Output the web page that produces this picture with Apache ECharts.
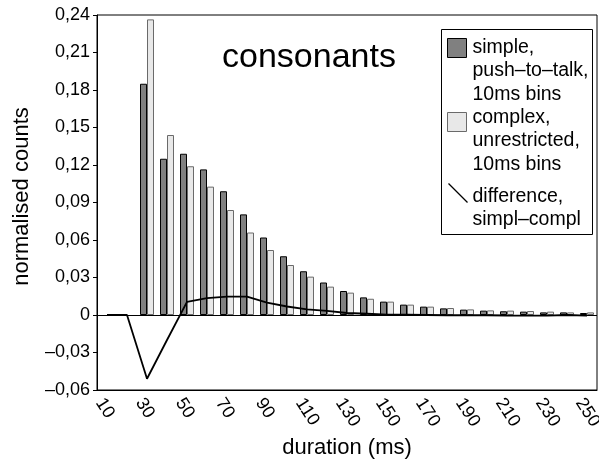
<!DOCTYPE html>
<html>
<head>
<meta charset="utf-8">
<script src="https://cdn.jsdelivr.net/npm/echarts@6/dist/echarts.min.js"></script>
<style>
  html, body { margin: 0; padding: 0; background: #fff; }
  #chart { width: 599px; height: 462px; }
</style>
</head>
<body>
<div id="chart"></div>
<script>
const durations = ['10', '20', '30', '40', '50', '60', '70', '80', '90', '100', '110', '120', '130',
  '140', '150', '160', '170', '180', '190', '200', '210', '220', '230', '240', '250'];

// simple, push-to-talk (dark bars)
const simpleCounts = [null, null, 0.185, 0.125, 0.129, 0.1165, 0.099, 0.0805, 0.062, 0.047, 0.035, 0.026, 0.0192,
  0.0141, 0.0107, 0.0083, 0.0067, 0.0053, 0.0043, 0.0035, 0.003, 0.0027, 0.0021, 0.0021, 0.0016];

// complex, unrestricted (light bars)
const complexCounts = [null, null, 0.2365, 0.144, 0.119, 0.1027, 0.084, 0.066, 0.052, 0.04, 0.0307, 0.0227, 0.0179,
  0.013, 0.0107, 0.0083, 0.0067, 0.0056, 0.0045, 0.0037, 0.0035, 0.0032, 0.0027, 0.0021, 0.0021];

// difference line, simpl-compl
const difference = [0, 0, -0.051, -0.02, 0.0105, 0.0135, 0.0147, 0.0147, 0.0099, 0.0068, 0.0045, 0.0033, 0.0016,
  0.001, 0.0003, 0.0002, 0, -0.0002, -0.0002, -0.0002, -0.0004, -0.0005, -0.0005, 0, -0.0005];

const FONT = '"Liberation Sans", Arial, sans-serif';
const DARK = '#808080';
const LIGHT = '#e8e8e8';

const chart = echarts.init(document.getElementById('chart'));

function fmtY(v) {
  if (Math.abs(v) < 1e-9) return '0';
  return (v < 0 ? '\u2013' : '') + Math.abs(v).toFixed(2).replace('.', ',');
}

chart.setOption({
  animation: false,
  textStyle: { fontFamily: FONT, color: '#000' },
  grid: {
    left: 97, right: 2, top: 15, bottom: 72,
    outerBoundsMode: 'none',
    show: true, borderColor: '#000', borderWidth: 1, backgroundColor: 'transparent'
  },
  xAxis: {
    type: 'category',
    data: durations,
    name: 'duration (ms)',
    nameLocation: 'middle',
    nameGap: 45,
    nameTextStyle: { fontSize: 22, fontFamily: FONT, color: '#000' },
    axisLine: { onZero: false, lineStyle: { color: '#000', width: 1 } },
    axisTick: { interval: 0, length: 4, lineStyle: { color: '#000' } },
    axisLabel: { interval: 1, rotate: -57, fontSize: 18, color: '#000', margin: 5, verticalAlign: 'top' },
    splitLine: { show: false }
  },
  yAxis: {
    type: 'value',
    min: -0.06,
    max: 0.24,
    interval: 0.03,
    name: 'normalised counts',
    nameLocation: 'middle',
    nameRotate: 90,
    nameGap: 64,
    nameTextStyle: { fontSize: 22, fontFamily: FONT, color: '#000', padding: [0, 0, 0, 12] },
    axisLine: { show: true, lineStyle: { color: '#000', width: 1 } },
    axisTick: { show: true, length: 4, lineStyle: { color: '#000' } },
    axisLabel: { fontSize: 18, color: '#000', margin: 7, formatter: fmtY },
    splitLine: { show: false }
  },
  series: [
    {
      name: 'simple',
      type: 'bar',
      data: simpleCounts,
      barWidth: 7,
      barGap: '0%',
      itemStyle: { color: DARK, borderColor: '#000', borderWidth: 1 }
    },
    {
      name: 'complex',
      type: 'bar',
      data: complexCounts,
      barWidth: 7,
      barGap: '0%',
      itemStyle: { color: LIGHT, borderColor: '#6a6a6a', borderWidth: 1 }
    },
    {
      name: 'difference',
      type: 'line',
      data: difference,
      symbol: 'none',
      z: 5,
      lineStyle: { color: '#000', width: 1.8 },
      markLine: {
        silent: true,
        symbol: 'none',
        label: { show: false },
        lineStyle: { color: '#000', width: 1, type: 'solid' },
        data: [{ yAxis: 0 }]
      }
    }
  ],
  graphic: [
    {
      type: 'text', left: 222, top: 41, z: 10,
      style: { text: 'consonants', font: '34px ' + FONT, fill: '#000' }
    },
    // legend box
    {
      type: 'group', left: 441, top: 29, z: 20,
      children: [
        { type: 'rect', shape: { x: 0, y: 0, width: 151, height: 205 },
          style: { fill: '#fff', stroke: '#000', lineWidth: 1 } },
        { type: 'rect', shape: { x: 6, y: 9, width: 19, height: 19 },
          style: { fill: DARK, stroke: '#000', lineWidth: 1 } },
        { type: 'text', x: 31, y: 6,
          style: { text: 'simple,\npush\u2013to\u2013talk,\n10ms bins', font: '19.5px ' + FONT, fill: '#000', lineHeight: 23.5 } },
        { type: 'rect', shape: { x: 6, y: 83, width: 19, height: 19 },
          style: { fill: LIGHT, stroke: '#6a6a6a', lineWidth: 1 } },
        { type: 'text', x: 31, y: 76,
          style: { text: 'complex,\nunrestricted,\n10ms bins', font: '19.5px ' + FONT, fill: '#000', lineHeight: 23.5 } },
        { type: 'line', shape: { x1: 7, y1: 154, x2: 26, y2: 173 },
          style: { stroke: '#000', lineWidth: 1.2 } },
        { type: 'text', x: 31, y: 155,
          style: { text: 'difference,\nsimpl\u2013compl', font: '19.5px ' + FONT, fill: '#000', lineHeight: 23.5 } }
      ]
    }
  ]
});

window.addEventListener('resize', () => chart.resize());
</script>
</body>
</html>
